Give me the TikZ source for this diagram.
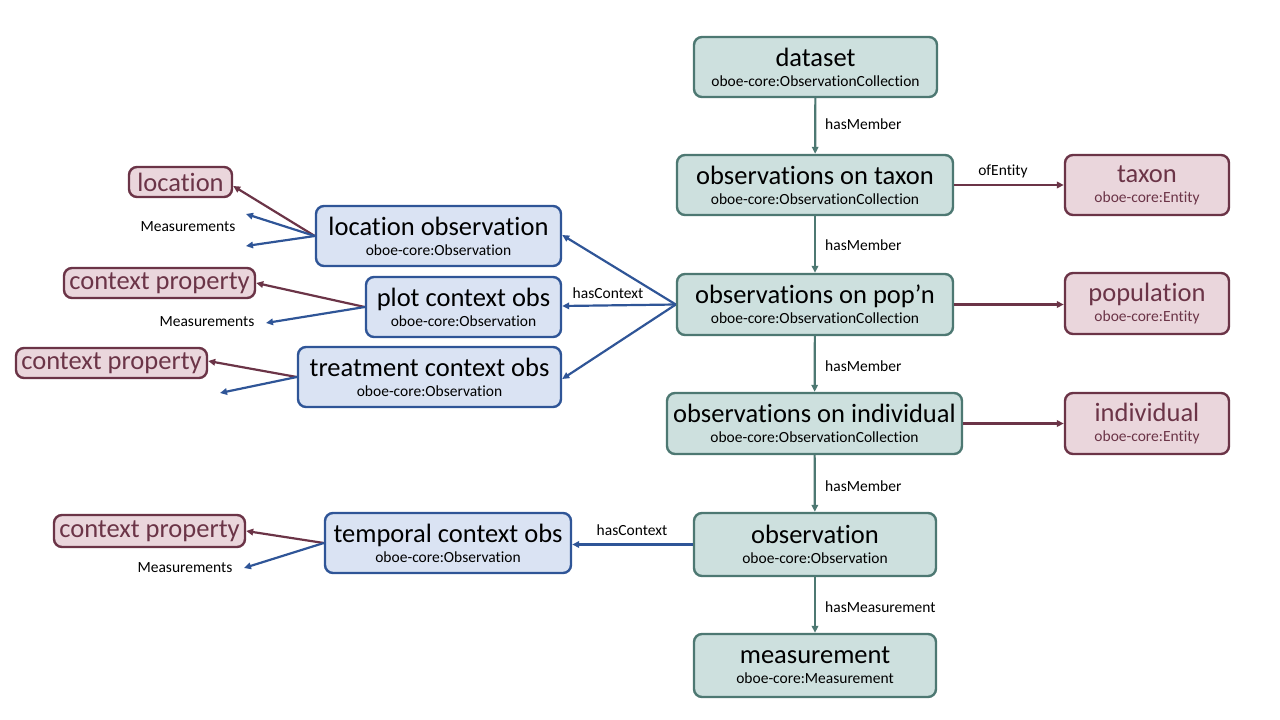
\documentclass[tikz,border=0pt]{standalone}
\usepackage{fontspec}
\setmainfont{Carlito}[Ligatures={NoCommon}]
\usetikzlibrary{arrows.meta}
\definecolor{tealB}{HTML}{4D7872}
\definecolor{tealF}{HTML}{CDE0DE}
\definecolor{blueB}{HTML}{2F5597}
\definecolor{blueF}{HTML}{DAE3F3}
\definecolor{marB}{HTML}{6B3447}
\definecolor{marF}{HTML}{EAD6DC}
\newcommand{\sub}[1]{{\fontsize{15.5}{18}\selectfont #1}}
\begin{document}
\begin{tikzpicture}[x=1pt,y=-1pt,
  box/.style={draw, line width=2.4pt, rounded corners=8pt, align=center, inner sep=0pt,
    font=\fontsize{26.5}{20}\selectfont},
  tealbox/.style={box, draw=tealB, fill=tealF},
  bluebox/.style={box, draw=blueB, fill=blueF},
  marbox/.style={box, draw=marB, fill=marF, text=marB},
  tarr/.style={draw=tealB, line width=2.2pt, -{Triangle[length=7pt,width=6.5pt]}},
  barr/.style={draw=blueB, line width=2.2pt, -{Triangle[length=7pt,width=6.5pt]}},
  marr/.style={draw=marB, line width=2.2pt, -{Triangle[length=7pt,width=6.5pt]}},
  lbl/.style={font=\fontsize{15.5}{17}\selectfont, inner sep=0pt},
  sz/.style 2 args={minimum width=#1pt, minimum height=#2pt}
]
\useasboundingbox (0,0) rectangle (1280,720);
% teal column
\node[tealbox, sz={243}{60}] (ds) at (815.5,67) {dataset\\\sub{oboe-core:ObservationCollection}};
\node[tealbox, sz={276}{60}] (tax) at (815,185) {observations on taxon\\\sub{oboe-core:ObservationCollection}};
\node[tealbox, sz={276}{61}] (pop) at (815,304.5) {observations on pop’n\\\sub{oboe-core:ObservationCollection}};
\node[tealbox, sz={295}{61}] (ind) at (814.5,423.5) {observations on individual\\\sub{oboe-core:ObservationCollection}};
\node[tealbox, sz={242}{63}] (obs) at (815,544.5) {observation\\\sub{oboe-core:Observation}};
\node[tealbox, sz={242}{63}] (meas) at (815,665.5) {measurement\\\sub{oboe-core:Measurement}};
% entities
\node[marbox, sz={164}{60}] (taxon) at (1147,185) {taxon\\\sub{oboe-core:Entity}};
\node[marbox, sz={164}{61}] (popn) at (1147,303.5) {population\\\sub{oboe-core:Entity}};
\node[marbox, sz={164}{61}] (indiv) at (1147,423.5) {individual\\\sub{oboe-core:Entity}};
% context observations
\node[bluebox, sz={245}{60}] (locobs) at (438.5,236) {location observation\\\sub{oboe-core:Observation}};
\node[bluebox, sz={195}{60}] (plotobs) at (463.5,307) {plot context obs\\\sub{oboe-core:Observation}};
\node[bluebox, sz={263}{60}] (treatobs) at (429.5,377) {treatment context obs\\\sub{oboe-core:Observation}};
\node[bluebox, sz={246}{60}] (tempobs) at (448,543) {temporal context obs\\\sub{oboe-core:Observation}};
% context properties
\node[marbox, sz={103}{30}] (loc) at (180.5,182) {location};
\node[marbox, sz={191}{30}] (cp1) at (159.5,283) {context property};
\node[marbox, sz={191}{30}] (cp2) at (111.5,363) {context property};
\node[marbox, sz={191}{32}] (cp3) at (149.5,531) {context property};
% free ends of measurement arrows
\coordinate (m1a) at (246,214);
\coordinate (m1b) at (246,246);
\coordinate (m2) at (266,323);
\coordinate (m3) at (220,393);
\coordinate (m4) at (244,568);
% vertical arrows
\draw[tarr] (ds) -- (tax);
\draw[tarr] (tax) -- (pop);
\draw[tarr] (pop) -- (ind);
\draw[tarr] (ind) -- (obs);
\draw[tarr] (obs) -- (meas);
\node[lbl, anchor=west] (l1) at (825,124) {hasMember};
\node[lbl, anchor=west] (l2) at (825,245) {hasMember};
\node[lbl, anchor=west] (l3) at (825,366) {hasMember};
\node[lbl, anchor=west] (l4) at (825,486) {hasMember};
\node[lbl, anchor=west] (l5) at (825,607) {hasMeasurement};
% entity arrows
\draw[marr] (tax.east) -- (taxon.west);
\node[lbl] (l6) at (1003,171) {ofEntity};
\draw[marr] (pop.east) -- (popn.west |- pop.east);
\draw[marr] (ind.east) -- (indiv.west |- ind.east);
% hasContext
\draw[barr] (pop.west) -- ([yshift=1pt]locobs.east);
\draw[barr] (pop.west) -- ([yshift=1pt]plotobs.east);
\draw[barr] (pop.west) -- ([yshift=-2pt]treatobs.east);
\node[lbl] (l7) at (608,293) {hasContext};
\draw[barr] (obs.west) -- (tempobs.east |- obs.west);
\node[lbl] (l8) at (632,530) {hasContext};
% context property arrows
\draw[marr] (locobs.west) -- ([yshift=-4pt]loc.east);
\draw[barr] (locobs.west) -- (m1a);
\draw[barr] (locobs.west) -- (m1b);
\node[lbl] (l9) at (188,227) {Measurements};
\draw[marr] (plotobs.west) -- (cp1.east);
\draw[barr] (plotobs.west) -- (m2);
\node[lbl] (l10) at (207,322) {Measurements};
\draw[marr] (treatobs.west) -- ([yshift=2pt]cp2.east);
\draw[barr] (treatobs.west) -- (m3);
\draw[marr] (tempobs.west) -- (cp3.east);
\draw[barr] (tempobs.west) -- (m4);
\node[lbl] (l11) at (185,568) {Measurements};
\end{tikzpicture}
\end{document}
